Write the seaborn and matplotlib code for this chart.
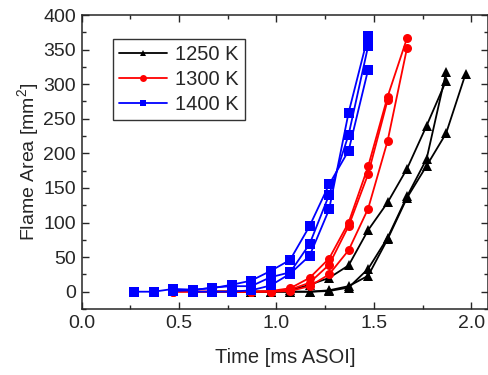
import pandas as pd
import numpy as np
import seaborn as sns
import matplotlib.pyplot as plt
from matplotlib.ticker import MultipleLocator

# 1250 K runs
t_k1 = [0.67, 0.77, 0.87, 0.97, 1.07, 1.17, 1.27, 1.37, 1.47, 1.57, 1.67, 1.77, 1.87]
a_k1 = [0, 0, 0, 0, 2, 10, 20, 38, 89, 129, 178, 240, 305]
t_k2 = [0.67, 0.77, 0.87, 0.97, 1.07, 1.17, 1.27, 1.37, 1.47, 1.57, 1.67, 1.77, 1.87]
a_k2 = [0, 0, 0, 0, 0, 0, 1, 6, 33, 78, 138, 192, 317]
t_k3 = [0.67, 0.77, 0.87, 0.97, 1.07, 1.17, 1.27, 1.37, 1.47, 1.57, 1.67, 1.77, 1.87, 1.97]
a_k3 = [0, 0, 0, 0, 0, 0, 2, 8, 23, 76, 136, 182, 229, 315]

# 1300 K runs
t_r1 = [0.47, 0.57, 0.67, 0.77, 0.87, 0.97, 1.07, 1.17, 1.27, 1.37, 1.47, 1.57, 1.67]
a_r1 = [0, 0, 0, 0, 0, 1, 5, 20, 48, 100, 181, 282, 367]
t_r2 = [0.47, 0.57, 0.67, 0.77, 0.87, 0.97, 1.07, 1.17, 1.27, 1.37, 1.47, 1.57]
a_r2 = [0, 0, 0, 0, 0, 0, 3, 13, 39, 95, 170, 277]
t_r3 = [0.57, 0.67, 0.77, 0.87, 0.97, 1.07, 1.17, 1.27, 1.37, 1.47, 1.57, 1.67]
a_r3 = [0, 0, 0, 0, 0, 1, 8, 25, 60, 120, 218, 353]

# 1400 K runs
t_b1 = [0.27, 0.37, 0.47, 0.57, 0.67, 0.77, 0.87, 0.97, 1.07, 1.17, 1.27, 1.37, 1.47]
a_b1 = [0, 0, 4, 3, 5, 10, 16, 30, 46, 95, 155, 204, 321]
t_b2 = [0.47, 0.57, 0.67, 0.77, 0.87, 0.97, 1.07, 1.17, 1.27, 1.37, 1.47]
a_b2 = [1, 2, 6, 8, 8, 21, 28, 69, 140, 227, 355]
t_b3 = [0.57, 0.67, 0.77, 0.87, 0.97, 1.07, 1.17, 1.27, 1.37, 1.47]
a_b3 = [0, 0, 0, 2, 9, 26, 52, 119, 259, 370]

runs = [
    ("1250 K", "k1", t_k1, a_k1), ("1250 K", "k2", t_k2, a_k2), ("1250 K", "k3", t_k3, a_k3),
    ("1300 K", "r1", t_r1, a_r1), ("1300 K", "r2", t_r2, a_r2), ("1300 K", "r3", t_r3, a_r3),
    ("1400 K", "b1", t_b1, a_b1), ("1400 K", "b2", t_b2, a_b2), ("1400 K", "b3", t_b3, a_b3),
]
rows = []
for temp, run, ts, As in runs:
    for t, a in zip(ts, As):
        rows.append({"temp": temp, "run": run, "t": t, "area": a})
df = pd.DataFrame(rows)

sns.set_style("ticks")
plt.rcParams['font.family'] = ['Liberation Sans', 'DejaVu Sans']
plt.rcParams['mathtext.fontset'] = 'custom'
plt.rcParams['mathtext.rm'] = 'Liberation Sans'

fig = plt.figure(figsize=(4.89, 3.75), dpi=100)
ax = fig.add_axes([0.1667, 0.176, 0.8313, 0.784])

palette = {"1250 K": "black", "1300 K": "#ff0000", "1400 K": "#0000ff"}
markers = {"1250 K": "^", "1300 K": "o", "1400 K": "s"}
sns.lineplot(data=df, x="t", y="area", hue="temp", style="temp", units="run",
             estimator=None, sort=False, palette=palette, markers=markers,
             dashes=False, markersize=6.5, linewidth=1.3, markeredgewidth=0, ax=ax)

ax.set_xlim(0, 2.085)
ax.set_ylim(-25, 400)
ax.xaxis.set_major_locator(MultipleLocator(0.5))
ax.xaxis.set_minor_locator(MultipleLocator(0.25))
ax.yaxis.set_major_locator(MultipleLocator(50))
ax.yaxis.set_minor_locator(MultipleLocator(25))
ax.xaxis.set_major_formatter(plt.FormatStrFormatter('%.1f'))
ax.tick_params(which='both', direction='in', top=True, right=True, labelsize=14, width=1)
ax.tick_params(which='major', length=5, pad=4)
ax.tick_params(which='minor', length=3)
for s in ax.spines.values():
    s.set_linewidth(1.1)
ax.set_xlabel("Time [ms ASOI]", fontsize=14.5, labelpad=12)
ax.set_ylabel("Flame Area [mm$^2$]", fontsize=14, labelpad=1)

handles, labels = ax.get_legend_handles_labels()
for h in handles:
    h.set_markersize(5)
leg = ax.legend(handles, labels, loc="upper left", bbox_to_anchor=(0.077, 0.92),
                fontsize=14.5, frameon=True, fancybox=False, edgecolor="black",
                handlelength=2.4, handletextpad=0.4, borderpad=0.3, labelspacing=0.3,
                borderaxespad=0)
leg.get_frame().set_linewidth(1.0)

fig.savefig("out.png", dpi=100)
